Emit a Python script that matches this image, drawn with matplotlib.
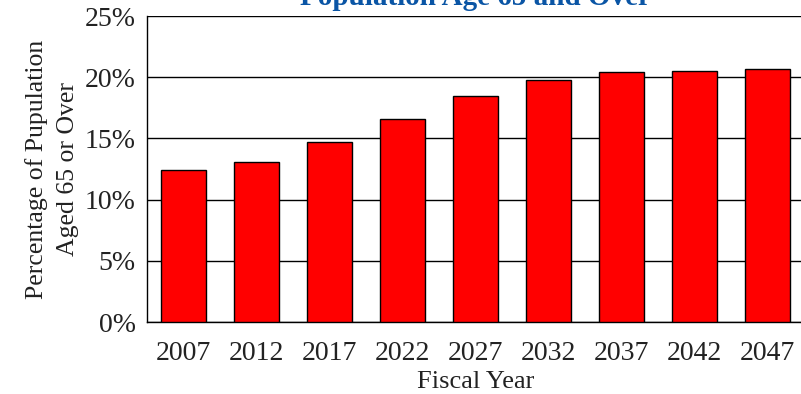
import matplotlib.pyplot as plt
from matplotlib.ticker import FuncFormatter

# data
years = ["2007", "2012", "2017", "2022", "2027", "2032", "2037", "2042", "2047"]
pct_65_over = [12.4, 13.1, 14.7, 16.6, 18.5, 19.8, 20.4, 20.5, 20.7]
y_ticks = [0, 5, 10, 15, 20, 25]

plt.rcParams["font.family"] = ["Liberation Serif", "DejaVu Serif"]

fig = plt.figure(figsize=(8.01, 3.94), dpi=100)
ax = fig.add_axes([147 / 801, 72 / 394, 657 / 801, 306 / 394])

x = list(range(len(years)))
ax.bar(x, pct_65_over, width=0.63, color="#ff0000", edgecolor="black",
       linewidth=1.0, zorder=3)

ax.set_xlim(-0.5, 8.5)
ax.set_ylim(0, 25)
ax.set_yticks(y_ticks)
ax.yaxis.set_major_formatter(FuncFormatter(lambda v, p: f"{int(v)}%"))
ax.set_xticks(x)
ax.set_xticklabels(years)
ax.tick_params(axis="both", length=0, labelsize=20, colors="#222222")
ax.tick_params(axis="y", pad=8)
ax.tick_params(axis="x", pad=14)

ax.grid(axis="y", color="black", linewidth=1.0, zorder=0)
ax.set_axisbelow(True)
for side in ["top", "right"]:
    ax.spines[side].set_visible(False)
ax.spines["left"].set_linewidth(1.0)
ax.spines["bottom"].set_linewidth(1.0)

ax.set_xlabel("Fiscal Year", fontsize=19, color="#222222", labelpad=3)
ax.set_ylabel("Percentage of Pupulation\nAged 65 or Over", fontsize=18.5,
              color="#222222", labelpad=4, linespacing=1.55)

fig.text(475 / 801, 1.0 - 5 / 394, "Population Age 65 and Over", ha="center",
         va="baseline", fontsize=21, fontweight="bold", color="#0a55a5")

plt.savefig("out.png", dpi=100)
